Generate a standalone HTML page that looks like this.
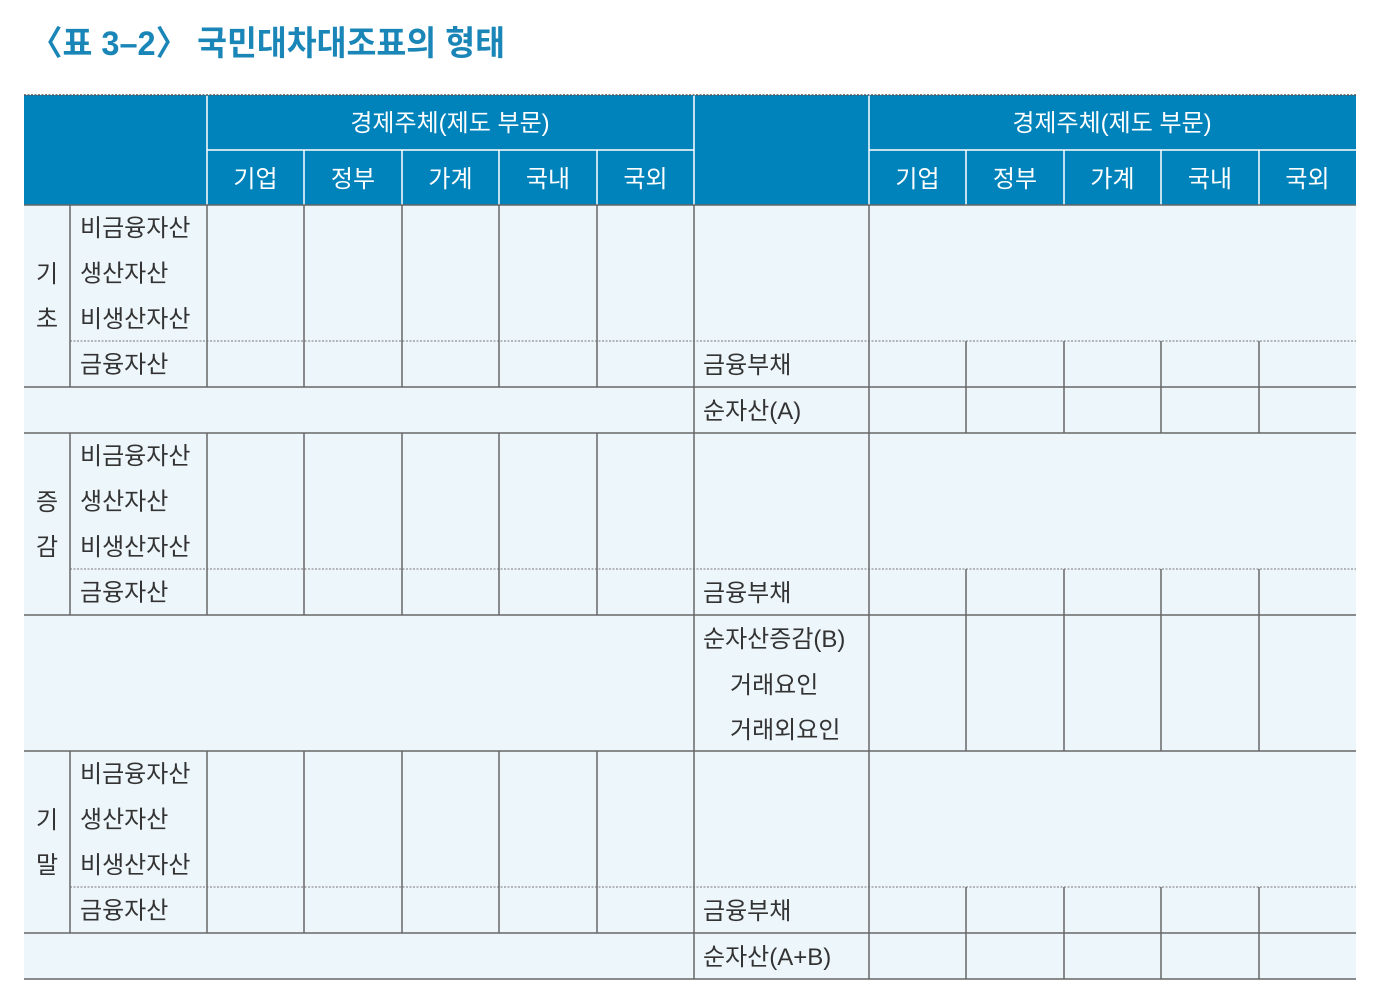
<!DOCTYPE html>
<html><head><meta charset="utf-8"><style>
body{margin:0;background:#fff;width:1386px;height:996px;overflow:hidden}
svg{display:block;font-family:"Liberation Sans","Noto Sans CJK KR",sans-serif}
</style></head><body>
<svg id="s" width="1386" height="996">
<text x="30" y="55" font-size="34" font-weight="bold" fill="#1a86b8" textLength="475" lengthAdjust="spacingAndGlyphs">〈표 3–2〉 국민대차대조표의 형태</text>
<rect x="24" y="95" width="1332" height="110" fill="#0083bb"/>
<rect x="24" y="205" width="1332" height="774" fill="#edf6fa"/>
<g id="g"></g>
</svg>
<script>
const subCols=['기업','정부','가계','국내','국외'];
const leftX=[207,304,402,499,597,694];
const rightX=[869,966,1064,1161,1259,1356];
const g=document.getElementById('g');
const NS='http://www.w3.org/2000/svg';
function ln(x1,y1,x2,y2,c,dash,w){const l=document.createElementNS(NS,'line');
l.setAttribute('x1',x1);l.setAttribute('y1',y1);l.setAttribute('x2',x2);l.setAttribute('y2',y2);
l.setAttribute('stroke',c);l.setAttribute('stroke-width',w||1.5);if(dash)l.setAttribute('stroke-dasharray','2,1.5');


g.appendChild(l);}
function tx(x,y,s,c,anchor,size){const t=document.createElementNS(NS,'text');
t.setAttribute('x',x);t.setAttribute('y',y);t.setAttribute('font-size',size||24);t.setAttribute('fill',c);
if(anchor)t.setAttribute('text-anchor',anchor);t.textContent=s;


g.appendChild(t);}
const W='#ffffff';
ln(207,95,207,205,W);ln(694,95,694,205,W);ln(869,95,869,205,W);
ln(207,150,694,150,W);ln(869,150,1356,150,W);
[leftX,rightX].forEach(arr=>{for(let i=1;i<5;i++)ln(arr[i],150,arr[i],205,W);
for(let i=0;i<5;i++)tx((arr[i]+arr[i+1])/2,187,subCols[i],'#fff','middle');});
tx(450,131,'경제주체(제도 부문)','#fff','middle');
tx(1112,131,'경제주체(제도 부문)','#fff','middle');
ln(24,95,1356,95,'#555',1.5);
const G='#666';
[205,387,433,615,751,933,979].forEach(y=>ln(24,y,1356,y,G));
[341,569,887].forEach(y=>ln(70,y,1356,y,'#777',true,1));
ln(694,205,694,979,G);ln(869,205,869,979,G);
[[205,387],[433,615],[751,933]].forEach(r=>{ln(70,r[0],70,r[1],G);leftX.slice(0,5).forEach(x=>ln(x,r[0],x,r[1],G));});
[[341,433],[569,751],[887,979]].forEach(r=>rightX.slice(1,5).forEach(x=>ln(x,r[0],x,r[1],G)));
const T='#333';
const sec=[[205,'기','초'],[433,'증','감'],[751,'기','말']];
sec.forEach(s=>{const y=s[0];
['비금융자산','생산자산','비생산자산','금융자산'].forEach((t,i)=>tx(80,y+31+i*45.5,t,T));
tx(47,y+77,s[1],T,'middle');tx(47,y+122,s[2],T,'middle');
tx(703,y+168,'금융부채',T);});
tx(703,419,'순자산(A)',T);
tx(703,647,'순자산증감(B)',T);
tx(730,693,'거래요인',T);
tx(730,738,'거래외요인',T);
tx(703,965,'순자산(A+B)',T);
</script>
</body></html>
